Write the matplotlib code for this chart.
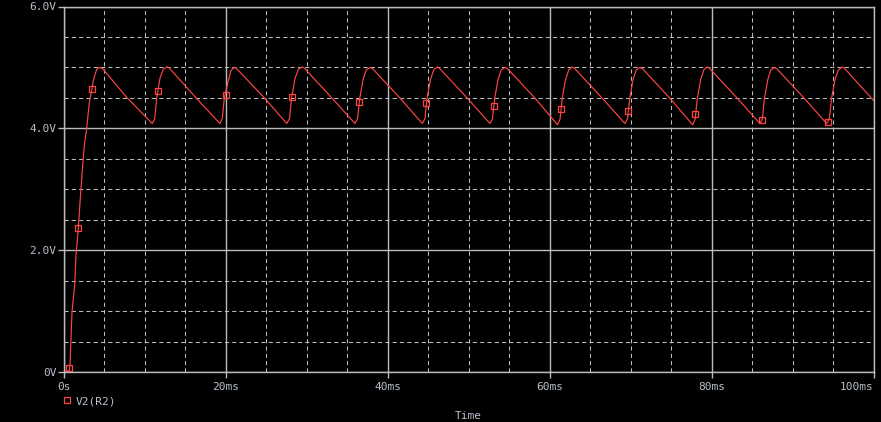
"""
PSpice-style transient plot: V2(R2), rectifier + filter cap output over 100 ms.
"""

import matplotlib
matplotlib.use("Agg")
import matplotlib.pyplot as plt
from matplotlib.ticker import MultipleLocator


# ---------------------------------------------------------------------------
# DATA
# ---------------------------------------------------------------------------

# start-up: cap charges from 0 V up to the first peak
startup_ms = [0.0, 0.70, 0.80, 1.05, 1.38, 1.54, 1.83, 2.04, 2.28, 2.53, 2.86,
              3.19, 3.52, 3.68, 4.10, 4.51, 4.84, 7.80]
startup_v = [0.0, 0.03, 0.12, 0.99, 1.43, 1.92, 2.36, 2.79, 3.23, 3.67, 4.00,
             4.43, 4.65, 4.79, 4.97, 5.00, 4.98, 4.51]

# steady ripple, one row per cycle: trough, rise, peak, discharge
ripple_ms = [
    10.96, 11.26, 11.50, 11.90, 12.32, 12.74, 13.06, 16.44,
    19.32, 19.60, 19.85, 20.35, 20.68, 21.09, 21.38, 24.88,
    27.56, 27.90, 28.15, 28.58, 28.99, 29.48, 29.80, 33.20,
    35.99, 36.30, 36.57, 36.98, 37.38, 37.84, 38.15, 41.60,
    44.30, 44.62, 44.88, 45.30, 45.70, 46.15, 46.46, 49.90,
    52.65, 52.96, 53.23, 53.64, 54.05, 54.51, 54.82, 58.25,
    61.00, 61.30, 61.57, 61.98, 62.38, 62.82, 63.13, 66.55,
    69.32, 69.63, 69.90, 70.31, 70.71, 71.17, 71.48, 74.90,
    77.68, 77.98, 78.25, 78.66, 79.05, 79.48, 79.79, 83.22,
    85.99, 86.28, 86.53, 86.95, 87.32, 87.75, 88.06, 91.48,
    94.22, 94.55, 94.82, 95.24, 95.68, 96.15, 96.46, 100.0,
]
ripple_v = [
    4.08, 4.16, 4.49, 4.82, 4.97, 5.01, 4.99, 4.49,
    4.08, 4.16, 4.49, 4.79, 4.95, 5.00, 4.98, 4.49,
    4.08, 4.16, 4.49, 4.82, 4.97, 5.01, 4.98, 4.49,
    4.08, 4.16, 4.49, 4.80, 4.96, 5.00, 4.98, 4.49,
    4.08, 4.16, 4.49, 4.80, 4.96, 5.01, 4.98, 4.49,
    4.08, 4.16, 4.49, 4.80, 4.96, 5.00, 4.98, 4.49,
    4.06, 4.15, 4.49, 4.80, 4.96, 5.01, 4.98, 4.49,
    4.08, 4.16, 4.49, 4.80, 4.96, 5.00, 4.98, 4.49,
    4.06, 4.15, 4.49, 4.80, 4.96, 5.01, 4.98, 4.49,
    4.08, 4.16, 4.49, 4.80, 4.96, 5.00, 4.98, 4.49,
    4.08, 4.16, 4.49, 4.80, 4.96, 5.01, 4.98, 4.46,
]

# trace symbols PSpice drops along the waveform
marker_ms = [0.72, 1.83, 3.52, 11.70, 20.06, 28.25, 36.52, 44.79, 53.19,
             61.38, 69.73, 77.93, 86.27, 94.42]
marker_v = [0.07, 2.36, 4.65, 4.62, 4.55, 4.52, 4.44, 4.42, 4.37,
            4.32, 4.28, 4.23, 4.14, 4.11]

x_ticks = [0, 20, 40, 60, 80, 100]
x_tick_labels = ["0s", "20ms", "40ms", "60ms", "80ms", "100ms"]
y_ticks = [0, 2, 4, 6]
y_tick_labels = ["0V", "2.0V", "4.0V", "6.0V"]

trace_name = "V2(R2)"


# ---------------------------------------------------------------------------
# STYLE
# ---------------------------------------------------------------------------

BG = "black"
GRID = "#bcbcbc"
TEXT = "#b8c0cc"
TRACE = "#ff4444"
W, H = 881, 422

plt.rcParams["font.family"] = ["DejaVu Sans Mono"]
plt.rcParams["font.size"] = 8

fig = plt.figure(figsize=(W / 100, H / 100), dpi=100, facecolor=BG)
ax = fig.add_axes([63.5 / W, 1 - 372.3 / H, 810 / W, 365.8 / H])
ax.set_facecolor(BG)

ax.set_xlim(0, 100)
ax.set_ylim(0, 6)

# solid major grid, dashed minor grid
ax.xaxis.set_minor_locator(MultipleLocator(5))
ax.yaxis.set_minor_locator(MultipleLocator(0.5))
ax.grid(which="major", color=GRID, linewidth=1.0, linestyle="-")
ax.grid(which="minor", color=GRID, linewidth=0.75, linestyle=(0, (4, 3)))
ax.set_axisbelow(True)

for s in ax.spines.values():
    s.set_color(GRID)
    s.set_linewidth(1.0)

ax.set_xticks(x_ticks, x_tick_labels)
ax.set_yticks(y_ticks, y_tick_labels)
ax.tick_params(which="major", colors=GRID, labelcolor=TEXT, length=4,
               width=1, direction="out")
ax.tick_params(axis="x", which="major", pad=3)
ax.tick_params(axis="y", which="major", pad=1)
ax.tick_params(which="minor", length=0)
# last time label is pulled inside so it ends at the right edge
ax.get_xticklabels()[-1].set_horizontalalignment("right")

# ---------------------------------------------------------------------------
# TRACE
# ---------------------------------------------------------------------------

ax.plot(startup_ms + ripple_ms, startup_v + ripple_v, color=TRACE,
        linewidth=0.85, solid_joinstyle="miter")
marks, = ax.plot(marker_ms, marker_v, linestyle="none", marker="s",
                 markersize=5, markerfacecolor="none", markeredgecolor=TRACE,
                 markeredgewidth=0.9, label=trace_name)

leg = ax.legend(handles=[marks], loc="center left",
                bbox_to_anchor=(61 / W, 1 - 401 / H),
                bbox_transform=fig.transFigure, frameon=False,
                borderpad=0, borderaxespad=0, handlelength=1.0,
                handletextpad=0.35, labelcolor=TEXT)

fig.text(468.5 / W, 1 - 416 / H, "Time", color=TEXT, ha="center", va="center")

fig.savefig("out.png", dpi=100, facecolor=BG)
